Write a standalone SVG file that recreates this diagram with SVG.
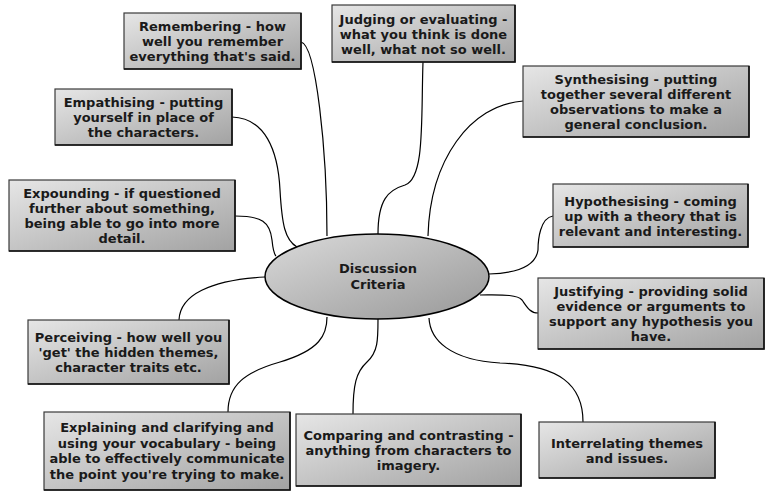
<svg xmlns="http://www.w3.org/2000/svg" width="772" height="496" viewBox="0 0 772 496">
<defs>
<linearGradient id="gBox" x1="0" y1="0" x2="1" y2="1">
<stop offset="0" stop-color="#e6e6e6"/>
<stop offset="1" stop-color="#a2a2a2"/>
</linearGradient>
<linearGradient id="gEll" x1="0" y1="0" x2="1" y2="1">
<stop offset="0" stop-color="#dadada"/>
<stop offset="1" stop-color="#989898"/>
</linearGradient>
</defs>
<style>
.box{fill:url(#gBox);stroke:#3a3a3a;stroke-width:1.2}
.edge{fill:none;stroke:#111;stroke-width:1.6}
.t{font-family:"DejaVu Sans",Verdana,sans-serif;font-weight:bold;font-size:13px;fill:#1a1a1a;text-anchor:middle}
.c{fill:none;stroke:#000;stroke-width:1.2}
</style>
<rect width="772" height="496" fill="#fff"/>
<g id="connectors">
<path class="c" d="M301,42 C316,45 327,150 327,236"/>
<path class="c" d="M232,117 C265,118 278,150 280,190 C282,225 285,240 297,247"/>
<path class="c" d="M235,216 C262,216 270,222 272,240 C273,250 274,254 276,256"/>
<path class="c" d="M423,62 C421,120 425,178 405,185 C388,190 378,200 378,234"/>
<path class="c" d="M523,101 C470,105 430,160 428,236"/>
<path class="c" d="M553,216 C540,218 538,240 538,250 C536,265 520,273 489,274"/>
<path class="c" d="M538,313 C530,313 527,307 522,300 C517,294 500,295 480,295"/>
<path class="c" d="M583,422 C583,385 560,365 500,363 C450,360 430,340 429,318"/>
<path class="c" d="M353,414 C353,385 356,372 367,362 C378,352 378,340 378,319"/>
<path class="c" d="M228,412 C228,385 245,372 280,362 C320,350 327,335 327,317"/>
<path class="c" d="M179,320 C180,295 210,280 265,277"/>
</g>
<g id="center">
<ellipse cx="377" cy="276.5" rx="112" ry="42.5" fill="url(#gEll)" stroke="#000" stroke-width="1.5"/>
<text class="t" x="378" y="273">Discussion</text>
<text class="t" x="378" y="289">Criteria</text>
</g>
<g id="remembering">
<rect class="box" x="124" y="13" width="177" height="56"/>
<path class="edge" d="M301,13 V69 H124"/>
<text class="t" x="212.5" y="31">Remembering - how</text>
<text class="t" x="212.5" y="46">well you remember</text>
<text class="t" x="212.5" y="61">everything that's said.</text>
</g>
<g id="empathising">
<rect class="box" x="55" y="89" width="177" height="56"/>
<path class="edge" d="M232,89 V145 H55"/>
<text class="t" x="143.5" y="107">Empathising - putting</text>
<text class="t" x="143.5" y="122">yourself in place of</text>
<text class="t" x="143.5" y="137">the characters.</text>
</g>
<g id="expounding">
<rect class="box" x="9" y="180" width="226" height="71"/>
<path class="edge" d="M235,180 V251 H9"/>
<text class="t" x="122" y="198">Expounding - if questioned</text>
<text class="t" x="122" y="213">further about something,</text>
<text class="t" x="122" y="228">being able to go into more</text>
<text class="t" x="122" y="243">detail.</text>
</g>
<g id="judging">
<rect class="box" x="332" y="5" width="183" height="57"/>
<path class="edge" d="M515,5 V62 H332"/>
<text class="t" x="423.5" y="23.5">Judging or evaluating -</text>
<text class="t" x="423.5" y="38.5">what you think is done</text>
<text class="t" x="423.5" y="53.5">well, what not so well.</text>
</g>
<g id="synthesising">
<rect class="box" x="523" y="66" width="226" height="71"/>
<path class="edge" d="M749,66 V137 H523"/>
<text class="t" x="636" y="84">Synthesising - putting</text>
<text class="t" x="636" y="99">together several different</text>
<text class="t" x="636" y="114">observations to make a</text>
<text class="t" x="636" y="129">general conclusion.</text>
</g>
<g id="hypothesising">
<rect class="box" x="553" y="184" width="195" height="63"/>
<path class="edge" d="M748,184 V247 H553"/>
<text class="t" x="650.5" y="205.5">Hypothesising - coming</text>
<text class="t" x="650.5" y="220.5">up with a theory that is</text>
<text class="t" x="650.5" y="235.5">relevant and interesting.</text>
</g>
<g id="justifying">
<rect class="box" x="538" y="278" width="226" height="71"/>
<path class="edge" d="M764,278 V349 H538"/>
<text class="t" x="651" y="296">Justifying - providing solid</text>
<text class="t" x="651" y="311">evidence or arguments to</text>
<text class="t" x="651" y="326">support any hypothesis you</text>
<text class="t" x="651" y="341">have.</text>
</g>
<g id="interrelating">
<rect class="box" x="539" y="422" width="176" height="56"/>
<path class="edge" d="M715,422 V478 H539"/>
<text class="t" x="627" y="448">Interrelating themes</text>
<text class="t" x="627" y="463">and issues.</text>
</g>
<g id="comparing">
<rect class="box" x="296" y="414" width="225" height="72"/>
<path class="edge" d="M521,414 V486 H296"/>
<text class="t" x="408.5" y="440">Comparing and contrasting -</text>
<text class="t" x="408.5" y="455">anything from characters to</text>
<text class="t" x="408.5" y="470">imagery.</text>
</g>
<g id="explaining">
<rect class="box" x="44" y="412" width="246" height="78"/>
<path class="edge" d="M290,412 V490 H44"/>
<text class="t" x="167" y="432">Explaining and clarifying and</text>
<text class="t" x="167" y="447.5">using your vocabulary - being</text>
<text class="t" x="167" y="463">able to effectively communicate</text>
<text class="t" x="167" y="478.5">the point you're trying to make.</text>
</g>
<g id="perceiving">
<rect class="box" x="28" y="320" width="201" height="64"/>
<path class="edge" d="M229,320 V384 H28"/>
<text class="t" x="128.5" y="342">Perceiving - how well you</text>
<text class="t" x="128.5" y="357">'get' the hidden themes,</text>
<text class="t" x="128.5" y="372">character traits etc.</text>
</g>
</svg>
